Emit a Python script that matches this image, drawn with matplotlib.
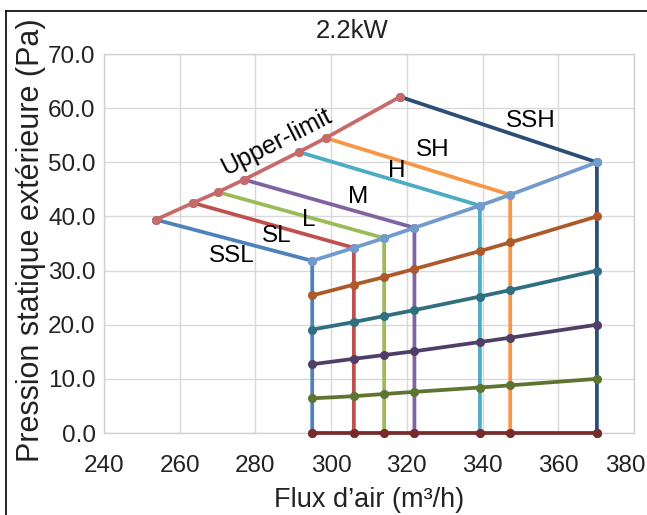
import matplotlib
matplotlib.use("Agg")
import matplotlib.pyplot as plt
from matplotlib.lines import Line2D
from matplotlib.transforms import ScaledTranslation

plt.rcParams['font.family'] = ['Liberation Sans', 'DejaVu Sans']

# Fan speed curves: each runs from the upper limit, down to the lower limit, then to 0 Pa
speeds = ["SSL", "SL", "L", "M", "H", "SH", "SSH"]
flow_start = [253.7, 263.5, 270.1, 277.0, 291.5, 298.6, 318.2]
press_start = [39.4, 42.5, 44.5, 46.8, 51.9, 54.5, 62.1]
flow_corner = [295.0, 306.0, 314.0, 322.0, 339.3, 347.3, 370.2]
press_corner = [31.8, 34.2, 36.0, 37.9, 42.0, 44.0, 50.0]

# Constant-resistance lines across the speeds (pressure at each speed's flow)
press_level_80 = [25.4, 27.4, 28.8, 30.3, 33.6, 35.2, 40.0]
press_level_60 = [19.1, 20.5, 21.6, 22.7, 25.2, 26.4, 30.0]
press_level_40 = [12.7, 13.7, 14.4, 15.1, 16.8, 17.6, 20.0]
press_level_20 = [6.4, 6.8, 7.2, 7.6, 8.4, 8.8, 10.0]
press_level_0 = [0.0, 0.0, 0.0, 0.0, 0.0, 0.0, 0.0]

x_ticks = [240, 260, 280, 300, 320, 340, 360, 380]
y_ticks = [0, 10, 20, 30, 40, 50, 60, 70]

speed_colors = ["#4f81bd", "#c0504d", "#9bbb59", "#8064a2", "#4bacc6", "#f79646", "#2c4d75"]
upper_color = "#c56b6b"
lower_color = "#729bcd"
level_colors = ["#ad5a2b", "#2f6f80", "#4f3e66", "#5e7431", "#772c2a"]

LW = 2.7
MS = 5.5

fig = plt.figure(figsize=(6.47, 5.15), dpi=100)
ax = fig.add_axes([104 / 647, 1 - 433 / 515, 530 / 647, 379 / 515])

for i, name in enumerate(speeds):
    ax.plot([flow_start[i], flow_corner[i], flow_corner[i]],
            [press_start[i], press_corner[i], 0.0],
            color=speed_colors[i], lw=LW, marker="o", ms=MS, zorder=3, clip_on=False)

ax.plot(flow_start, press_start, color=upper_color, lw=LW, marker="o", ms=MS, zorder=4)
ax.plot(flow_corner, press_corner, color=lower_color, lw=LW, marker="o", ms=MS, zorder=4)

levels = [press_level_80, press_level_60, press_level_40, press_level_20, press_level_0]
for vals, c in zip(levels, level_colors):
    ax.plot(flow_corner, vals, color=c, lw=LW, marker="o", ms=MS, zorder=5, clip_on=False)

# Curve names
lab_fs = 17.5
label_pos = {
    "SSH": (352.8, 57.6), "SH": (326.9, 52.3), "H": (317.4, 48.4),
    "M": (307.1, 43.6), "L": (294.2, 39.3), "SL": (285.7, 36.4), "SSL": (273.8, 32.7),
}
for name, (lx, ly) in label_pos.items():
    ax.text(lx, ly, name, fontsize=lab_fs, ha="center", va="center", zorder=6)
ax.text(285.4, 53.75, "Upper-limit", fontsize=18, ha="center", va="center",
        rotation=27, rotation_mode="anchor", zorder=6)

ax.set_xlim(240, 380)
ax.set_ylim(0, 70)
ax.set_xticks(x_ticks)
ax.set_yticks(y_ticks)
ax.set_yticklabels([f"{v:.1f}" for v in y_ticks])
ax.grid(True, color="#d9d9d9", lw=1.0, zorder=0)
ax.set_axisbelow(True)
for sp in ax.spines.values():
    sp.set_color("#d0d0d0")
    sp.set_linewidth(1.0)
ax.tick_params(axis="both", length=0, labelsize=17.5, colors="#222222")
ax.tick_params(axis="x", pad=16)
ax.tick_params(axis="y", pad=6)

# keep the last x tick label inside the chart
last = ax.get_xticklabels()[-1]
last.set_transform(last.get_transform() + ScaledTranslation(-9 / 100, 0, fig.dpi_scale_trans))

fig.text(31 / 647, 1 - 240 / 515, "Pression statique extérieure (Pa)", rotation=90,
         ha="center", va="center", fontsize=22, color="#222222")
fig.text(369 / 647, 1 - 500 / 515, "Flux d’air (m³/h)", ha="center", va="center",
         fontsize=19.5, color="#222222")
fig.text(352 / 647, 1 - 31 / 515, "2.2kW", ha="center", va="center",
         fontsize=18.5, color="#222222")

# Outer chart frame (left and top edges)
fig.add_artist(Line2D([6 / 647, 6 / 647], [0, 1 - 11 / 515], transform=fig.transFigure,
                      color="black", lw=1.2))
fig.add_artist(Line2D([6 / 647, 1], [1 - 11 / 515, 1 - 11 / 515], transform=fig.transFigure,
                      color="black", lw=1.2))

fig.savefig("out.png", dpi=100)
